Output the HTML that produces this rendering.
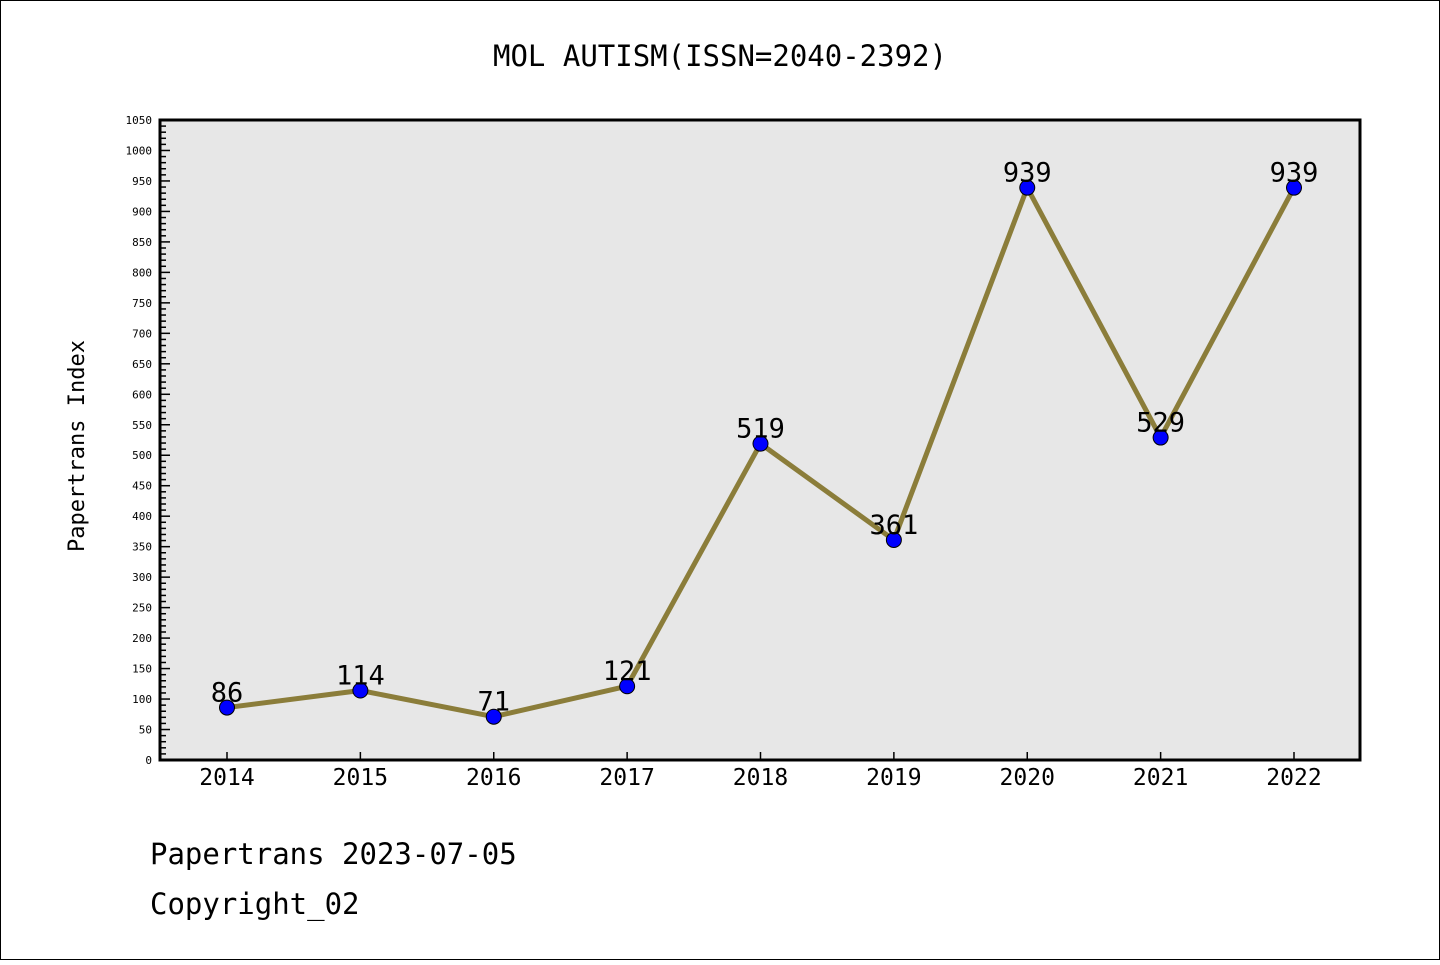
<!DOCTYPE html>
<html><head><meta charset="utf-8"><style>
body{margin:0;background:#fff}
svg text{font-family:"DejaVu Sans Mono","Liberation Mono",monospace}
</style></head><body>
<svg width="1440" height="960" xmlns="http://www.w3.org/2000/svg">
<rect x="0.5" y="0.5" width="1439" height="959" fill="#fff" stroke="#000"/>
<text x="720" y="66" text-anchor="middle" font-size="29">MOL AUTISM(ISSN=2040-2392)</text>
<rect x="160" y="120" width="1200" height="640" fill="#e7e7e7"/>
<g id="ticks"></g>
<g id="series"></g>
<rect x="160" y="120" width="1200" height="640" fill="none" stroke="#000" stroke-width="3"/>
<text transform="translate(84,446) rotate(-90)" text-anchor="middle" font-size="22">Papertrans Index</text>
<text x="150" y="864" font-size="29">Papertrans 2023-07-05</text>
<text x="150" y="914" font-size="29">Copyright_02</text>
</svg>
<script>
const years=[2014,2015,2016,2017,2018,2019,2020,2021,2022];
const values=[86,114,71,121,519,361,939,529,939];
const yMax=1050;
const NS="http://www.w3.org/2000/svg";
const x0=227,xStep=(1294-227)/8;
function xs(i){return x0+i*xStep;}
function ys(v){return 760-v*640/yMax;}
function mk(t,a,p){const e=document.createElementNS(NS,t);for(const k in a)e.setAttribute(k,a[k]);p.appendChild(e);return e;}
const tg=document.getElementById('ticks'),sg=document.getElementById('series');
for(let v=0;v<=yMax;v+=10){
  const major=v%50===0;
  const l=mk('line',{x1:160,x2:160+(major?10:6),y1:ys(v),y2:ys(v),stroke:'#000','stroke-width':1.5},tg);
  
  
  if(major){const t=mk('text',{x:152,y:ys(v)+4,'text-anchor':'end','font-size':11},tg);t.textContent=v;
    
    }
}
years.forEach((y,i)=>{
  const l=mk('line',{x1:xs(i),x2:xs(i),y1:760,y2:752,stroke:'#000','stroke-width':1.5},tg);
  
  
  const t=mk('text',{x:xs(i),y:785,'text-anchor':'middle','font-size':23},tg);t.textContent=y;
  
  
});
const pl=mk('polyline',{points:values.map((v,i)=>xs(i)+','+ys(v)).join(' '),fill:'none',stroke:'#8b7d3a','stroke-width':5,'stroke-linejoin':'round'},sg);


values.forEach((v,i)=>{
  const c=mk('circle',{cx:xs(i),cy:ys(v),r:7.5,fill:'#0000ff',stroke:'#000','stroke-width':1},sg);
  
  
  const t=mk('text',{x:xs(i),y:ys(v)-6,'text-anchor':'middle','font-size':27},sg);t.textContent=v;
  
  
});
</script>
</body></html>
